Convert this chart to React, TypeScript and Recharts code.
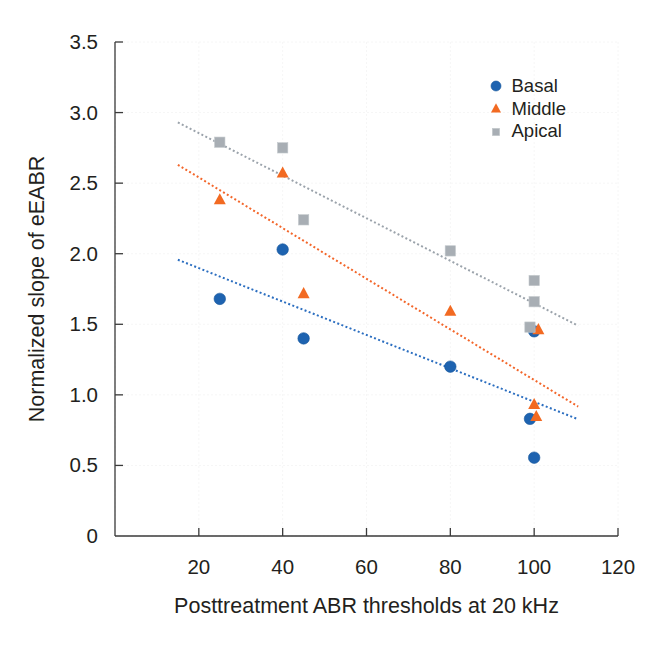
import { ScatterChart, Scatter, XAxis, YAxis, CartesianGrid, Label } from 'recharts'

// Posttreatment ABR threshold (x) vs normalized eEABR slope (y)
const basalX = [25, 40, 45, 80, 100, 99, 100]
const basalY = [1.68, 2.03, 1.4, 1.2, 1.45, 0.83, 0.555]
const middleX = [25, 40, 45, 80, 101, 100, 100.5]
const middleY = [2.38, 2.57, 1.715, 1.59, 1.46, 0.93, 0.845]
const apicalX = [25, 40, 45, 80, 100, 100, 99]
const apicalY = [2.79, 2.75, 2.24, 2.02, 1.81, 1.66, 1.48]

// dotted fit lines, endpoints
const trendX = [15, 110.5]
const basalTrend = [1.957, 0.827]
const middleTrend = [2.63, 0.917]
const apicalTrend = [2.93, 1.49]

const xTicks = [20, 40, 60, 80, 100, 120]
const yTicks = [0, 0.5, 1, 1.5, 2, 2.5, 3, 3.5]

const FONT = '"Liberation Sans", Arial, Helvetica, sans-serif'
const TEXT = '#231f20'
const AXIS = '#3a3a3a'

const BLUE = '#1e63b0'
const ORANGE = '#f26a22'
const GRAY = '#a8aeb4'

const SERIES = [
  { name: 'Basal', color: BLUE, shape: 'circle' },
  { name: 'Middle', color: ORANGE, shape: 'triangle' },
  { name: 'Apical', color: GRAY, shape: 'square' },
]

const toPoints = (xs: number[], ys: number[]) => xs.map((x, i) => ({ x, y: ys[i] }))

const basalData = toPoints(basalX, basalY)
const middleData = toPoints(middleX, middleY)
const apicalData = toPoints(apicalX, apicalY)
const basalLine = toPoints(trendX, basalTrend)
const middleLine = toPoints(trendX, middleTrend)
const apicalLine = toPoints(trendX, apicalTrend)

function Marker({ cx, cy, kind, color, size }: { cx: number; cy: number; kind: string; color: string; size: number }) {
  if (kind === 'circle') return <circle cx={cx} cy={cy} r={size / 2} fill={color} stroke='#17579c' strokeWidth={0.6} />
  if (kind === 'triangle') {
    const h = size * 0.92
    return (
      <polygon
        points={`${cx},${cy - h * 0.62} ${cx - size / 2},${cy + h * 0.38} ${cx + size / 2},${cy + h * 0.38}`}
        fill={color}
      />
    )
  }
  const s = size * 0.86
  return <rect x={cx - s / 2} y={cy - s / 2} width={s} height={s} fill={color} stroke='#c3c8cc' strokeWidth={0.6} />
}

const noDot = () => <g />

interface TickProps {
  x?: number | string
  y?: number | string
  payload?: { value: number }
}

function YTick({ x, y, payload }: TickProps) {
  if (!payload) return null
  const px = Number(x)
  const py = Number(y)
  const v = payload.value
  return (
    <g>
      {v !== 0 && <line x1={px} x2={px + 8} y1={py} y2={py} stroke={AXIS} strokeWidth={1.3} />}
      <text x={px - 17} y={py} dy={7} textAnchor='end' fill={TEXT} style={{ fontFamily: FONT, fontSize: 20.5 }}>
        {v === 0 ? '0' : v.toFixed(1)}
      </text>
    </g>
  )
}

function XTick({ x, y, payload }: TickProps) {
  if (!payload) return null
  const px = Number(x)
  const py = Number(y)
  return (
    <g>
      <line x1={px} x2={px} y1={py} y2={py - 8} stroke={AXIS} strokeWidth={1.3} />
      <text x={px} y={py + 38} textAnchor='middle' fill={TEXT} style={{ fontFamily: FONT, fontSize: 20.5 }}>
        {payload.value}
      </text>
    </g>
  )
}

function LegendBox() {
  return (
    <div style={{ position: 'absolute', left: 489, top: 75, fontFamily: FONT, fontSize: 18.5, color: TEXT }}>
      {SERIES.map((s) => (
        <div key={s.name} style={{ display: 'flex', alignItems: 'center', height: 22.7 }}>
          <svg width={14} height={14} style={{ display: 'block' }}>
            <Marker cx={7} cy={7} kind={s.shape} color={s.color} size={s.shape === 'square' ? 8.5 : 10} />
          </svg>
          <span style={{ marginLeft: 8.5, lineHeight: '22.7px' }}>{s.name}</span>
        </div>
      ))}
    </div>
  )
}

export default function App() {
  return (
    <div style={{ position: 'absolute', left: 0, top: 0, width: 660, height: 645, background: '#fff' }}>
      <ScatterChart width={660} height={645} margin={{ top: 42, right: 42, bottom: 0, left: 0 }}>
        <CartesianGrid stroke='#f6f6f6' strokeDasharray='2 2' />
        <XAxis
          type='number'
          dataKey='x'
          domain={[0, 120]}
          ticks={xTicks}
          height={109}
          tickSize={0}
          tickMargin={0}
          tick={XTick}
          stroke={AXIS}
          strokeWidth={1.3}
          interval={0}
        >
          <Label
            content={({ viewBox }: any) => (
              <text
                x={viewBox.x + viewBox.width / 2}
                y={viewBox.y + 77}
                textAnchor='middle'
                fill={TEXT}
                style={{ fontFamily: FONT, fontSize: 21.5 }}
              >
                Posttreatment ABR thresholds at 20 kHz
              </text>
            )}
          />
        </XAxis>
        <YAxis
          type='number'
          dataKey='y'
          domain={[0, 3.5]}
          ticks={yTicks}
          width={115}
          tickSize={0}
          tickMargin={0}
          tick={YTick}
          stroke={AXIS}
          strokeWidth={1.3}
          interval={0}
        >
          <Label
            content={({ viewBox }: any) => {
              const cy = viewBox.y + viewBox.height / 2
              return (
                <text
                  x={44}
                  y={cy}
                  transform={`rotate(-90, 44, ${cy})`}
                  textAnchor='middle'
                  fill={TEXT}
                  style={{ fontFamily: FONT, fontSize: 21.5 }}
                >
                  Normalized slope of eEABR
                </text>
              )
            }}
          />
        </YAxis>
        <Scatter
          data={basalLine}
          line={{ stroke: '#2b6ec0', strokeWidth: 2, strokeDasharray: '2 2.4' }}
          lineType='joint'
          shape={noDot}
          legendType='none'
          isAnimationActive={false}
        />
        <Scatter
          data={middleLine}
          line={{ stroke: '#f3662a', strokeWidth: 2, strokeDasharray: '2 2.4' }}
          lineType='joint'
          shape={noDot}
          legendType='none'
          isAnimationActive={false}
        />
        <Scatter
          data={apicalLine}
          line={{ stroke: '#9ba3ab', strokeWidth: 2, strokeDasharray: '2 2.4' }}
          lineType='joint'
          shape={noDot}
          legendType='none'
          isAnimationActive={false}
        />
        <Scatter
          name='Basal'
          data={basalData}
          shape={(p: any) => <Marker cx={p.cx} cy={p.cy} kind='circle' color={BLUE} size={11.5} />}
          isAnimationActive={false}
        />
        <Scatter
          name='Middle'
          data={middleData}
          shape={(p: any) => <Marker cx={p.cx} cy={p.cy} kind='triangle' color={ORANGE} size={12} />}
          isAnimationActive={false}
        />
        <Scatter
          name='Apical'
          data={apicalData}
          shape={(p: any) => <Marker cx={p.cx} cy={p.cy} kind='square' color={GRAY} size={12} />}
          isAnimationActive={false}
        />
      </ScatterChart>
      <LegendBox />
    </div>
  )
}
